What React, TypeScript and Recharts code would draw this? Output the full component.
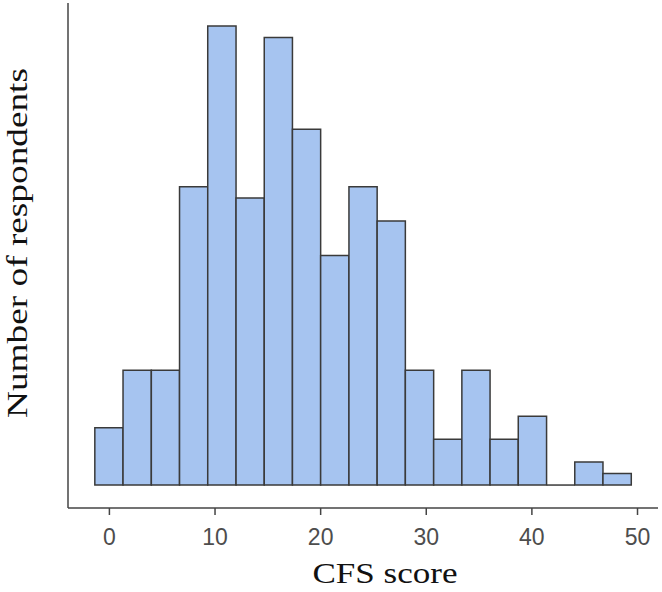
import { ComposedChart, XAxis, YAxis, ReferenceArea, ReferenceLine, Label } from 'recharts';

// bin edges of the histogram (CFS score)
const binEdges = [
  -1.38, 1.29, 3.97, 6.64, 9.31, 11.99, 14.66, 17.33, 20.0, 22.68,
  25.35, 28.02, 30.7, 33.37, 36.04, 38.71, 41.39, 44.06, 46.73, 49.41,
];
// respondents per bin
const counts = [5, 10, 10, 26, 40, 25, 39, 31, 20, 26, 23, 10, 4, 10, 4, 6, 0, 2, 1];
const xTicks = [0, 10, 20, 30, 40, 50];

const bins = counts.map((n, i) => ({ x1: binEdges[i], x2: binEdges[i + 1], n }));

const FILL = '#a6c4f0';
const EDGE = '#3a3a3a';
const AXIS = '#444';

export default function App() {
  return (
    <div style={{ position: 'absolute', left: 0, top: 0, background: '#fff' }}>
      <ComposedChart
        width={662}
        height={592}
        data={bins}
        margin={{ top: 3, right: 4, bottom: 0, left: 0 }}
      >
        <XAxis
          type="number"
          dataKey="x1"
          domain={[-3.92, 51.94]}
          ticks={xTicks}
          allowDataOverflow
          height={84}
          axisLine={{ stroke: AXIS, strokeWidth: 1.5 }}
          tickLine={{ stroke: AXIS, strokeWidth: 1.5 }}
          tickSize={7}
          tickMargin={14}
          tick={{ fill: '#4d4d4d', fontSize: 23, fontFamily: 'Liberation Sans, Arial, sans-serif' }}
        >
          <Label
            content={({ viewBox }: any) => (
              <text
                x={viewBox.x + viewBox.width / 2 + 22}
                y={viewBox.y + 75}
                textAnchor="middle"
                fontSize={30}
                fontFamily="Liberation Serif, Times New Roman, serif"
                fill="#111"
                textLength={145}
                lengthAdjust="spacingAndGlyphs"
              >
                CFS score
              </text>
            )}
          />
        </XAxis>
        <YAxis
          type="number"
          domain={[-2, 42]}
          allowDataOverflow
          width={68}
          tick={false}
          tickLine={false}
          axisLine={{ stroke: AXIS, strokeWidth: 1.5 }}
        >
          <Label
            content={({ viewBox }: any) => {
              const cx = 27;
              const cy = viewBox.y + 240;
              return (
                <text
                  x={cx}
                  y={cy}
                  transform={`rotate(-90, ${cx}, ${cy})`}
                  textAnchor="middle"
                  fontSize={30}
                  fontFamily="Liberation Serif, Times New Roman, serif"
                  fill="#111"
                  textLength={350}
                  lengthAdjust="spacingAndGlyphs"
                >
                  Number of respondents
                </text>
              );
            }}
          />
        </YAxis>
        {bins.map((b, i) =>
          b.n > 0 ? (
            <ReferenceArea
              key={i}
              x1={b.x1}
              x2={b.x2}
              y1={0}
              y2={b.n}
              fill={FILL}
              fillOpacity={1}
              stroke={EDGE}
              strokeWidth={1.5}
              ifOverflow="visible"
            />
          ) : (
            <ReferenceLine
              key={i}
              segment={[{ x: b.x1, y: 0 }, { x: b.x2, y: 0 }]}
              stroke={EDGE}
              strokeWidth={1.5}
              ifOverflow="visible"
            />
          )
        )}
      </ComposedChart>
    </div>
  );
}
